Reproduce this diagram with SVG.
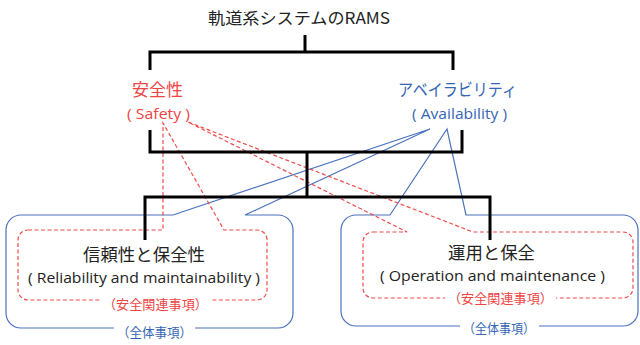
<svg xmlns="http://www.w3.org/2000/svg" width="640" height="345" viewBox="0 0 640 345">
<style>
text{font-family:"Noto Sans CJK JP","Noto Sans",sans-serif;text-anchor:middle}
.lat{font-family:"Open Sans","Noto Sans","Noto Sans CJK JP",sans-serif}
.blk{fill:#222}
.red{fill:#ef4444}
.blue{fill:#3565b5}
.br{fill:none;stroke:#000;stroke-width:3}
.rd{fill:none;stroke:#f04a4a;stroke-width:1.2;stroke-dasharray:4 2.5}
.bl{fill:none;stroke:#4a72bd;stroke-width:1.2}
.bg{fill:#fff}
</style>
<rect width="640" height="345" fill="#fff"/>
<g id="node-left">
<path class="bl" d="M21,215 H173 L430,129 L245,215 H278 A15,15 0 0 1 293,230 V313 A15,15 0 0 1 278,328 H21 A15,15 0 0 1 6,313 V230 A15,15 0 0 1 21,215 Z"/>
<path class="rd" d="M28,230 H163 L163,123 L224,230 H257 A10,10 0 0 1 267,240 V290 A10,10 0 0 1 257,300 H28 A10,10 0 0 1 18,290 V240 A10,10 0 0 1 28,230 Z"/>
<rect class="bg" x="100" y="293" width="111" height="19"/>
<rect class="bg" x="114" y="321" width="81" height="16"/>
<text class="blk" x="144" y="261" font-size="17" textLength="122" lengthAdjust="spacingAndGlyphs">信頼性と保全性</text>
<text class="blk lat" x="144" y="283" font-size="15" textLength="232" lengthAdjust="spacingAndGlyphs">( Reliability and maintainability )</text>
<text class="red" x="155.5" y="309" font-size="13" textLength="105" lengthAdjust="spacingAndGlyphs">（安全関連事項）</text>
<text class="blue" x="154.5" y="337" font-size="13" textLength="75" lengthAdjust="spacingAndGlyphs">（全体事項）</text>
</g>
<g id="node-right">
<path class="bl" d="M356,215 H390 L447,129 L466,215 H623 A15,15 0 0 1 638,230 V311 A15,15 0 0 1 623,326 H356 A15,15 0 0 1 341,311 V230 A15,15 0 0 1 356,215 Z"/>
<path class="rd" d="M373,232 H407 L188,122 L473,232 H623 A10,10 0 0 1 633,242 V288 A10,10 0 0 1 623,298 H373 A10,10 0 0 1 363,288 V242 A10,10 0 0 1 373,232 Z"/>
<rect class="bg" x="445" y="289" width="111" height="19"/>
<rect class="bg" x="460" y="319" width="79" height="16"/>
<text class="blk" x="491.5" y="259" font-size="17" textLength="87" lengthAdjust="spacingAndGlyphs">運用と保全</text>
<text class="blk lat" x="492.5" y="281" font-size="15" textLength="225" lengthAdjust="spacingAndGlyphs">( Operation and maintenance )</text>
<text class="red" x="500.5" y="303" font-size="13" textLength="105" lengthAdjust="spacingAndGlyphs">（安全関連事項）</text>
<text class="blue" x="499" y="333" font-size="13" textLength="72" lengthAdjust="spacingAndGlyphs">（全体事項）</text>
</g>
<g id="node-title">
<text class="blk" x="299" y="24" font-size="16" textLength="182" lengthAdjust="spacingAndGlyphs">軌道系システムのRAMS</text>
</g>
<g id="node-safety">
<text class="red" x="157.5" y="96" font-size="17" textLength="51" lengthAdjust="spacingAndGlyphs">安全性</text>
<text class="red lat" x="158.5" y="119" font-size="15" textLength="63" lengthAdjust="spacingAndGlyphs">( Safety )</text>
</g>
<g id="node-availability">
<text class="blue" x="457.5" y="96" font-size="17" textLength="119" lengthAdjust="spacingAndGlyphs">アベイラビリティ</text>
<text class="blue lat" x="459.5" y="119" font-size="15" textLength="95" lengthAdjust="spacingAndGlyphs">( Availability )</text>
</g>
<g id="connectors">
<path class="br" d="M305,35 V52"/>
<path class="br" d="M150,70 V52 H453 V70"/>
<path class="br" d="M150,130 V152 H462 V130"/>
<path class="br" d="M307,152 V197"/>
<path class="br" d="M145,240 V197 H490 V240"/>
</g>
</svg>
